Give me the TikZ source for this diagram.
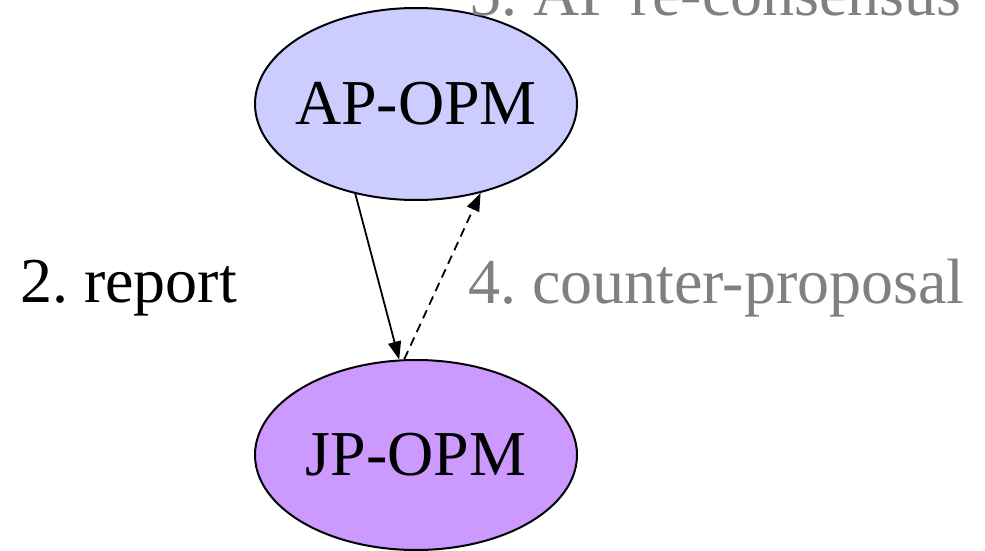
\documentclass[tikz,border=0pt]{standalone}
\usepackage{fontspec}
\setmainfont{Liberation Serif}
\frenchspacing
\usetikzlibrary{shapes.geometric,arrows.meta}
\definecolor{apfill}{HTML}{CCCCFF}
\definecolor{jpfill}{HTML}{CC99FF}
\definecolor{labgray}{HTML}{808080}
\tikzset{
  opm/.style={ellipse, draw=black, line width=2pt, inner sep=0pt,
    minimum width=322pt, font=\fontsize{64}{64}\selectfont},
  lab/.style={inner sep=0pt, anchor=base west, font=\fontsize{64}{64}\selectfont},
  conn/.style={line width=1.8pt, -{Triangle[length=18pt,width=13pt]}}
}
\begin{document}
\begin{tikzpicture}[x=1pt,y=-1pt]
\useasboundingbox (0,0) rectangle (985,551);
\node[opm, fill=apfill, minimum height=192pt] (ap) at (416,104) {\makebox[0pt]{AP-OPM}};
\node[opm, fill=jpfill, minimum height=190pt] (jp) at (416,455) {\makebox[0pt]{JP-OPM}};
\draw[conn] (ap.236) -- (jp.100);
\draw[conn, dashed, dash pattern=on 9pt off 6pt] (jp.97) -- (ap.306);
\node[lab] (l2) at (20,302) {2. report};
\node[lab, text=labgray] (l4) at (468,303) {4. counter-proposal};
\node[lab, text=labgray] (l5) at (469,16) {5. AP re-consensus};
\end{tikzpicture}
\end{document}
